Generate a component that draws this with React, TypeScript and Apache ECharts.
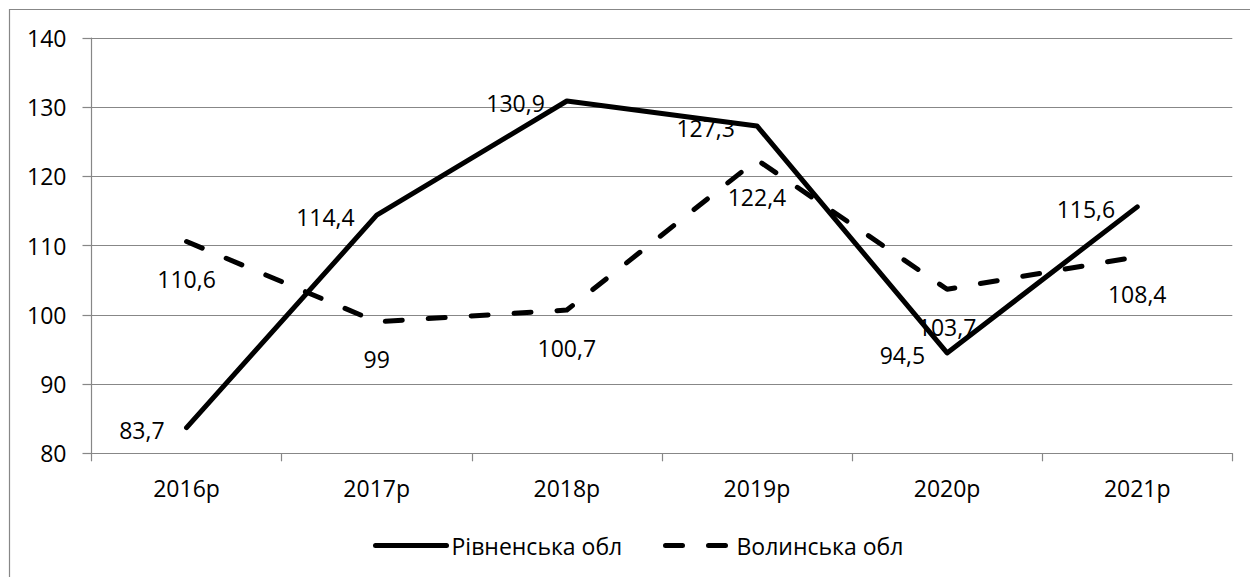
import React, { useEffect, useRef } from "react";
import * as echarts from "echarts";

const categories = ["2016р", "2017р", "2018р", "2019р", "2020р", "2021р"];
const rivneName = "Рівненська обл";
const volynName = "Волинська обл";
const rivneValues = [83.7, 114.4, 130.9, 127.3, 94.5, 115.6];
const volynValues = [110.6, 99, 100.7, 122.4, 103.7, 108.4];
const yMin = 80;
const yMax = 140;
const yInterval = 10;

const FONT = "'Open Sans', 'Noto Sans', sans-serif";
const GRAY = "#878787";
const FS = 23;

const fmt = (v: number) => String(v).replace(".", ",");

export default function App() {
  const ref = useRef<HTMLDivElement>(null);
  useEffect(() => {
    document.body.style.margin = "0";
    if (!ref.current) return;
    const chart = echarts.init(ref.current, undefined, { renderer: "svg" });
    const legendCommon = {
      top: 534,
      padding: 0,
      itemHeight: 22,
      textStyle: { fontFamily: FONT, fontSize: FS, color: "#000" },
      itemStyle: { color: "rgba(0,0,0,0)", borderWidth: 0, opacity: 0 },
      lineStyle: { width: 5, cap: "round" },
    };
    chart.setOption({
      animation: false,
      backgroundColor: "#ffffff",
      textStyle: { fontFamily: FONT, color: "#000" },
      graphic: [
        {
          type: "rect",
          shape: { x: 9.5, y: 9.5, width: 1400, height: 800 },
          style: { fill: "none", stroke: GRAY, lineWidth: 1.2 },
          silent: true,
        },
      ],
      grid: { left: 91.5, right: 17.7, top: 38, bottom: 123.7, containLabel: false },
      legend: [
        { ...legendCommon, data: [rivneName], left: 373, itemWidth: 71 },
        { ...legendCommon, data: [volynName], left: 663, itemWidth: 66 },
      ],
      xAxis: {
        type: "category",
        data: categories,
        boundaryGap: true,
        axisLine: { show: true, lineStyle: { color: GRAY, width: 1.2 } },
        axisTick: { show: true, length: 8, lineStyle: { color: GRAY, width: 1.2 } },
        axisLabel: { margin: 23, fontSize: FS, color: "#000", fontFamily: FONT },
        splitLine: { show: false },
      },
      yAxis: {
        type: "value",
        min: yMin,
        max: yMax,
        interval: yInterval,
        axisLine: { show: true, lineStyle: { color: GRAY, width: 1.2 } },
        axisTick: { show: true, length: 9, lineStyle: { color: GRAY, width: 1.2 } },
        axisLabel: { margin: 25, fontSize: FS, color: "#000", fontFamily: FONT },
        splitLine: { show: true, lineStyle: { color: GRAY, width: 1.2 } },
      },
      series: [
        {
          name: rivneName,
          type: "line",
          data: rivneValues,
          symbol: "circle",
          symbolSize: 0,
          showSymbol: true,
          lineStyle: { color: "#000", width: 5, cap: "round", join: "round" },
          itemStyle: { color: "#000" },
          label: {
            show: true,
            position: "left",
            distance: 22,
            offset: [0, 2],
            fontSize: FS,
            fontFamily: FONT,
            color: "#000",
            formatter: (p: any) => fmt(p.value),
          },
          z: 3,
        },
        {
          name: volynName,
          type: "line",
          data: volynValues,
          symbol: "circle",
          symbolSize: 0,
          showSymbol: true,
          lineStyle: {
            color: "#000",
            width: 5,
            type: [17, 26],
            cap: "round",
            join: "round",
          },
          itemStyle: { color: "#000" },
          label: {
            show: true,
            position: "bottom",
            distance: 26,
            fontSize: FS,
            fontFamily: FONT,
            color: "#000",
            formatter: (p: any) => fmt(p.value),
          },
          z: 2,
        },
      ],
    });
    return () => chart.dispose();
  }, []);
  return <div ref={ref} style={{ width: 1250, height: 577 }} />;
}
